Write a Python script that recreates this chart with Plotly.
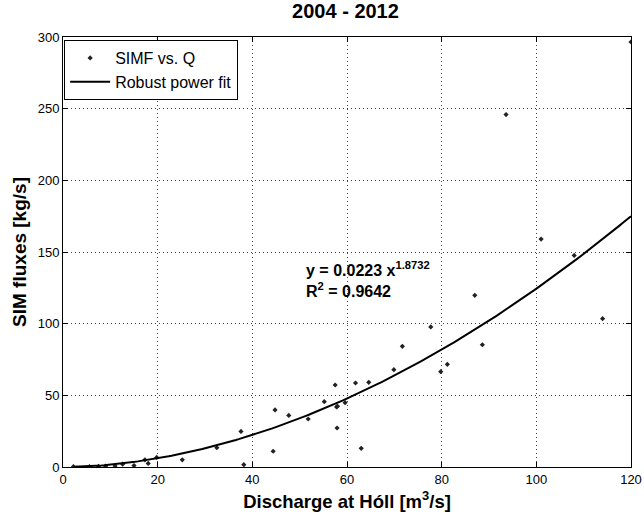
import numpy as np
import plotly.graph_objects as go

q = [2.2, 5.6, 7.5, 9.0, 11.0, 12.6, 15.0, 17.3, 18.0, 19.8, 25.2, 32.5, 37.6, 38.2,
     44.4, 44.8, 47.7, 51.8, 55.2, 57.5, 57.8, 58.0, 57.9, 59.6, 61.8, 63.0, 64.6,
     69.9, 71.7, 77.7, 79.8, 81.2, 87.0, 88.6, 93.6, 101.0, 108.0, 114.0, 120.0]
simf = [0.2, 0.2, 0.4, 0.6, 0.7, 2.0, 1.0, 5.0, 2.5, 6.7, 5.0, 13.5, 24.8, 1.6,
        11.0, 39.8, 36.0, 33.5, 45.6, 57.2, 41.9, 42.4, 27.2, 44.9, 58.6, 13.0, 59.1,
        67.9, 84.2, 97.7, 66.5, 71.6, 119.8, 85.3, 245.9, 159.0, 147.6, 103.5, 296.5]
fit_a = 0.0223
fit_b = 1.8732
r2 = 0.9642

xfit = np.linspace(min(q), 120, 200)
yfit = fit_a * xfit ** fit_b

fig = go.Figure()
fig.add_trace(go.Scatter(x=q, y=simf, mode="markers", name="SIMF vs. Q",
                         marker=dict(symbol="diamond", size=4, color="#222222")))
fig.add_trace(go.Scatter(x=xfit, y=yfit, mode="lines", name="Robust power fit",
                         line=dict(color="black", width=2)))

axis_common = dict(showline=True, linecolor="black", linewidth=1, mirror="ticks",
                   ticks="inside", ticklen=5, tickcolor="black", automargin=False,
                   showgrid=True, gridcolor="#444444", griddash="1px,3px", gridwidth=1,
                   zeroline=False, tickfont=dict(size=13, color="black"))

fig.update_layout(
    width=644, height=517,
    margin=dict(l=63, r=13, t=37, b=50, autoexpand=False),
    paper_bgcolor="white", plot_bgcolor="white",
    font=dict(family="Liberation Sans, Arial, sans-serif", color="black"),
    title=dict(text="<b>2004 - 2012</b>", x=0.5365, xanchor="center", y=0.979,
               yanchor="middle", font=dict(size=20), automargin=False),
    xaxis=dict(range=[0, 120], dtick=20,
               title=dict(text="<b>Discharge at Hóll [m<sup>3</sup>/s]</b>",
                          font=dict(size=18.5), standoff=9), **axis_common),
    yaxis=dict(range=[0, 300], dtick=50,
               title=dict(text="<b>SIM fluxes [kg/s]</b>", font=dict(size=19),
                          standoff=6), **axis_common),
    legend=dict(x=0.002, y=0.993, xanchor="left", yanchor="top",
                bordercolor="black", borderwidth=1, bgcolor="white",
                font=dict(size=16), tracegroupgap=0, itemwidth=40),
    showlegend=True,
)

fig.add_annotation(x=51, y=131, xref="x", yref="y", xanchor="left", yanchor="middle",
                   showarrow=False, align="left",
                   text=f"<b>y = {fit_a} x<sup>{fit_b}</sup><br>R<sup>2</sup> = {r2}</b>",
                   font=dict(size=16, color="black"))

fig.write_html("out.html", config={"displayModeBar": False},
               post_script="document.body.style.margin='0';document.body.style.overflow='hidden';")
